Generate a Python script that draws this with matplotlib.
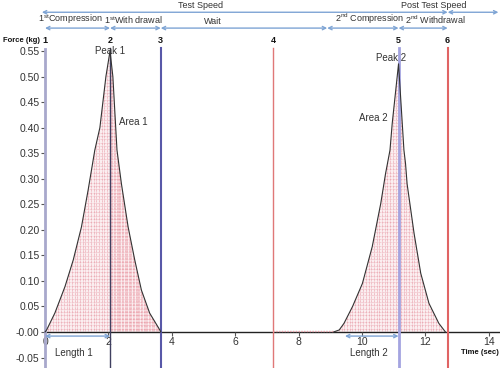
import numpy as np
import matplotlib
matplotlib.use("Agg")
import matplotlib.pyplot as plt
from matplotlib.patches import Polygon

plt.rcParams['font.family'] = ['Liberation Sans', 'DejaVu Sans']
plt.rcParams['mathtext.fontset'] = 'custom'
plt.rcParams['mathtext.rm'] = 'Liberation Sans'

# force curves (time in sec, force in kg)
curve1_x = [0.0, 0.05, 0.31, 0.63, 0.89, 1.15, 1.36, 1.57, 1.73, 1.92, 2.05,
            2.14, 2.23, 2.27, 2.41, 2.62, 2.83, 3.04, 3.30, 3.62, 3.65]
curve1_y = [0.0, 0.004, 0.037, 0.089, 0.141, 0.206, 0.278, 0.356, 0.40, 0.50, 0.55,
            0.50, 0.40, 0.356, 0.29, 0.206, 0.141, 0.082, 0.037, 0.004, 0.0]
curve2_x = [9.10, 9.28, 9.43, 9.70, 10.01, 10.32, 10.59, 10.74, 10.88, 10.95, 11.15,
            11.32, 11.37, 11.42, 11.64, 11.85, 12.11, 12.42, 12.63]
curve2_y = [0.0, 0.004, 0.017, 0.05, 0.095, 0.167, 0.252, 0.31, 0.356, 0.408, 0.525,
            0.356, 0.33, 0.29, 0.193, 0.115, 0.056, 0.017, 0.0]
wait_x = [7.2, 9.1]

# event markers
marker_x = [0.0, 2.05, 3.65, 7.2, 11.15, 12.7]
marker_labels = ['1', '2', '3', '4', '5', '6']
marker_colors = ['#a8a8cc', '#404060', '#5858a8', '#e07878', '#a4a4e0', '#e06464']
marker_widths = [2.0, 1.0, 1.5, 1.0, 2.0, 1.5]

# phase spans
phase_names = [r'1$^{\mathrm{st}}$Compression', r'1$^{\mathrm{st}}$With drawal', 'Wait',
               r'2$^{\mathrm{nd}}$ Compression', r'2$^{\mathrm{nd}}$ Withdrawal']
phase_start = [0.0, 2.05, 3.65, 8.9, 11.15]
phase_end = [2.05, 3.65, 8.9, 11.15, 12.7]
phase_label_x = [0.8, 2.78, 5.3, 10.25, 12.3]

speed_names = ['Test Speed', 'Post Test Speed']
speed_start = [-0.1, 12.7]
speed_end = [12.7, 14.3]
speed_label_x = [4.9, 12.27]

yticks = [-0.05, 0.0, 0.05, 0.10, 0.15, 0.20, 0.25, 0.30, 0.35, 0.40, 0.45, 0.50, 0.55]
ytick_labels = ['-0.05', '-0.00', '0.05', '0.10', '0.15', '0.20', '0.25', '0.30',
                '0.35', '0.40', '0.45', '0.50', '0.55']
xticks = [0, 2, 4, 6, 8, 10, 12, 14]

fig = plt.figure(figsize=(5, 3.68), dpi=100)
ax = fig.add_axes([0, 0, 1, 1])
ax.set_xlim(-1.42, 14.35)
ax.set_ylim(-0.0705, 0.65)
ax.patch.set_alpha(0)

for s in ['top', 'right']:
    ax.spines[s].set_visible(False)
ax.spines['left'].set_position(('data', 0))
ax.spines['left'].set_bounds(-0.0705, 0.555)
ax.spines['left'].set_color('#a8a8cc')
ax.spines['left'].set_linewidth(2)
ax.spines['bottom'].set_position(('data', 0))
ax.spines['bottom'].set_bounds(0, 14.35)
ax.spines['bottom'].set_color('#222222')
ax.spines['bottom'].set_linewidth(1)
ax.spines['bottom'].set_zorder(1)

ax.set_yticks(yticks)
ax.set_yticklabels(ytick_labels)
ax.set_xticks(xticks)
ax.set_xticklabels([str(v) for v in xticks])
ax.tick_params(axis='y', direction='out', length=3, width=0.8, color='#555555',
               labelsize=7.5, labelcolor='#333333', pad=1)
ax.tick_params(axis='x', direction='out', length=3, width=0.8, color='#555555',
               labelsize=7.5, labelcolor='#333333', pad=0.5)

# vertical event lines
for x, c, w in zip(marker_x[1:], marker_colors[1:], marker_widths[1:]):
    ax.plot([x, x], [-0.0705, 0.556], color=c, lw=w, zorder=2)

# shaded areas with dotted grid texture
def shade(xs, ys, dense_from=None):
    poly = Polygon(np.column_stack([xs, ys]), closed=True, facecolor='#fbeef0',
                   edgecolor='none', zorder=1)
    ax.add_patch(poly)
    for gx in np.arange(min(xs), max(xs), 0.085):
        ln = ax.plot([gx, gx], [0, max(ys)], color='#e07888', lw=0.5, ls=(0, (1, 1)),
                     alpha=0.8, zorder=1)[0]
        ln.set_clip_path(poly)
    for gy in np.arange(0, max(ys), 0.0065):
        ln = ax.plot([min(xs), max(xs)], [gy, gy], color='#e07888', lw=0.5, ls=(0, (1, 1)),
                     alpha=0.55, zorder=1)[0]
        ln.set_clip_path(poly)
    if dense_from is not None:
        for gx in np.arange(dense_from, max(xs), 0.085):
            ln = ax.plot([gx + 0.04, gx + 0.04], [0, max(ys)], color='#e05868', lw=0.5,
                         ls=(0, (1, 1)), alpha=0.7, zorder=1)[0]
            ln.set_clip_path(poly)

shade(curve1_x, curve1_y, dense_from=2.05)
shade(curve2_x, curve2_y)

ax.plot(curve1_x, curve1_y, color='#333333', lw=0.8, zorder=3)
ax.plot(curve2_x, curve2_y, color='#333333', lw=0.8, zorder=3)
ax.plot(wait_x, [0.001, 0.001], color='#e8a0a8', lw=1, ls=(0, (1, 1)), zorder=3)

arrow_kw = dict(arrowstyle='<->', color='#7ea4d4', lw=1, shrinkA=0, shrinkB=0,
                mutation_scale=6)

# speed row
for name, x0, x1, lx in zip(speed_names, speed_start, speed_end, speed_label_x):
    ax.annotate('', xy=(x1, 0.626), xytext=(x0, 0.626), arrowprops=arrow_kw)
    ax.text(lx, 0.630, name, fontsize=6.5, color='#333333', ha='center', va='bottom')

# phase row
for name, x0, x1, lx in zip(phase_names, phase_start, phase_end, phase_label_x):
    ax.annotate('', xy=(x1, 0.595), xytext=(x0, 0.595), arrowprops=arrow_kw)
    ax.text(lx, 0.599, name, fontsize=6.5, color='#333333', ha='center', va='bottom')

# event numbers
for x, lab in zip(marker_x, marker_labels):
    ax.text(x, 0.571, lab, fontsize=6.5, fontweight='bold', ha='center', va='center',
            color='#111111')
ax.text(-0.75, 0.571, 'Force (kg)', fontsize=5.5, fontweight='bold', ha='center',
        va='center', color='#111111')
ax.text(14.3, -0.04, 'Time (sec)', fontsize=5.5, fontweight='bold', ha='right',
        va='center', color='#111111')

# annotations
ax.text(2.05, 0.551, 'Peak 1', fontsize=7, color='#333333', ha='center', va='center')
ax.text(10.9, 0.536, 'Peak 2', fontsize=7, color='#333333', ha='center', va='center')
ax.text(2.78, 0.411, 'Area 1', fontsize=7, color='#333333', ha='center', va='center')
ax.text(10.35, 0.418, 'Area 2', fontsize=7, color='#333333', ha='center', va='center')

ax.annotate('', xy=(2.05, -0.008), xytext=(0.0, -0.008), arrowprops=arrow_kw)
ax.annotate('', xy=(11.15, -0.008), xytext=(9.46, -0.008), arrowprops=arrow_kw)
ax.text(0.9, -0.041, 'Length 1', fontsize=7, color='#333333', ha='center', va='center')
ax.text(10.2, -0.041, 'Length 2', fontsize=7, color='#333333', ha='center', va='center')

fig.savefig('out.png', dpi=100)
